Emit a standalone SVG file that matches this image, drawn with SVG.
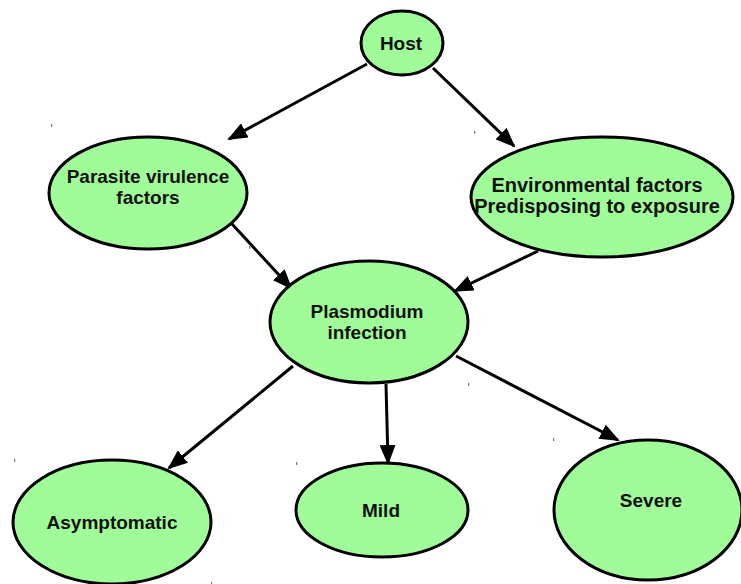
<svg xmlns="http://www.w3.org/2000/svg" width="741" height="584" viewBox="0 0 741 584">
  <style>
    .node ellipse { fill: #a0fc98; stroke: #000; stroke-width: 3; }
    .node text { font-family: "Liberation Sans", Arial, sans-serif; font-weight: bold; font-size: 19px; fill: #111; text-anchor: middle; dominant-baseline: central; }
    #environment text { font-size: 20px; }
    .edge { stroke: #000; stroke-width: 3; fill: none; marker-end: url(#arrow); }
    .speck { fill: #777; }
  </style>
  <defs>
    <marker id="arrow" viewBox="0 0 20 16" refX="18" refY="8" markerWidth="20" markerHeight="16" markerUnits="userSpaceOnUse" orient="auto">
      <path d="M0,0 L20,8 L0,16 Z" fill="#000"/>
    </marker>
  </defs>

  <rect width="741" height="584" fill="#fff"/>

  <!-- small handle marks -->
  <g id="specks">
    <rect class="speck" x="51" y="124" width="1.2" height="3"/>
    <rect class="speck" x="474" y="131" width="1.2" height="3"/>
    <rect class="speck" x="249" y="246" width="1.2" height="3"/>
    <rect class="speck" x="468" y="383" width="1.2" height="3"/>
    <rect class="speck" x="553" y="438" width="1.2" height="3"/>
    <rect class="speck" x="14" y="459" width="1.2" height="3"/>
    <rect class="speck" x="296" y="462" width="1.2" height="3"/>
    <rect class="speck" x="211" y="582" width="1.2" height="2"/>
  </g>

  <g id="connectors">
    <line class="edge" x1="367" y1="64" x2="229" y2="139"/>
    <line class="edge" x1="433" y1="68" x2="514" y2="146"/>
    <line class="edge" x1="232" y1="224" x2="291" y2="288"/>
    <line class="edge" x1="538" y1="251" x2="455" y2="291"/>
    <line class="edge" x1="293" y1="366" x2="169" y2="468"/>
    <line class="edge" x1="386" y1="384" x2="388" y2="463"/>
    <line class="edge" x1="456" y1="356" x2="618" y2="440"/>
  </g>

  <g id="host" class="node">
    <ellipse cx="402" cy="43" rx="41" ry="32"/>
    <text x="401" y="43">Host</text>
  </g>
  <g id="parasite" class="node">
    <ellipse cx="148" cy="193" rx="99" ry="56"/>
    <text x="148" y="176">Parasite virulence</text>
    <text x="148" y="197">factors</text>
  </g>
  <g id="environment" class="node">
    <ellipse cx="602" cy="197" rx="131" ry="60"/>
    <text x="597" y="185">Environmental factors</text>
    <text x="597" y="206">Predisposing to exposure</text>
  </g>
  <g id="plasmodium" class="node">
    <ellipse cx="369" cy="322" rx="99" ry="61"/>
    <text x="367" y="311">Plasmodium</text>
    <text x="367" y="332">infection</text>
  </g>
  <g id="asymptomatic" class="node">
    <ellipse cx="112" cy="522" rx="99" ry="62"/>
    <text x="112" y="522">Asymptomatic</text>
  </g>
  <g id="mild" class="node">
    <ellipse cx="382" cy="510" rx="86" ry="47"/>
    <text x="381" y="510">Mild</text>
  </g>
  <g id="severe" class="node">
    <ellipse cx="648" cy="510" rx="94" ry="70"/>
    <text x="651" y="500">Severe</text>
  </g>
</svg>
